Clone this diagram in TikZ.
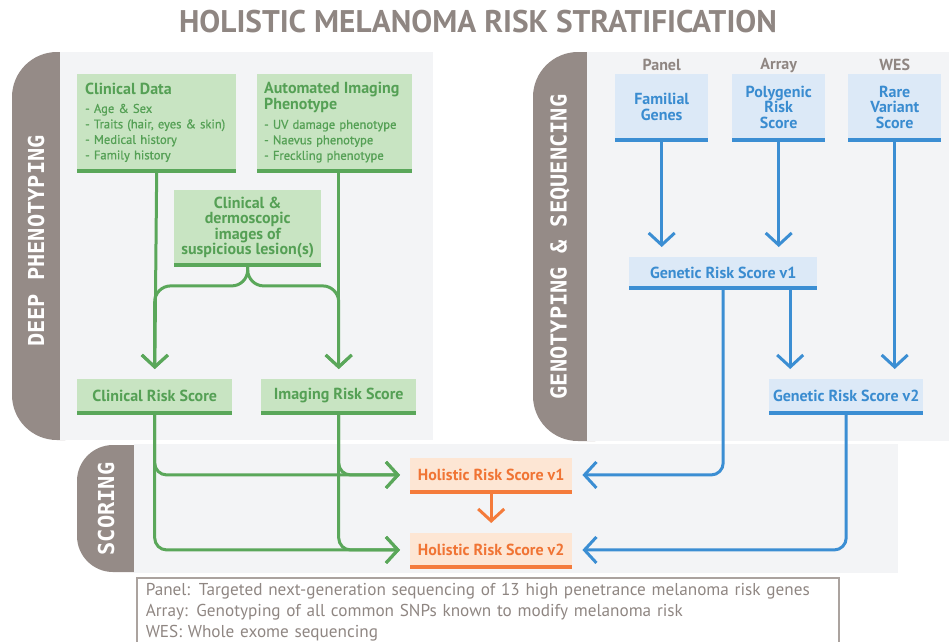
\documentclass[tikz,border=0pt]{standalone}
\usepackage{fontspec}
\setmainfont{PT Sans}
\newfontfamily\tabfont{DejaVu Sans Mono}
\newfontfamily\itemfont[FakeBold=0.7]{PT Sans}
\usetikzlibrary{arrows.meta,calc}
\definecolor{tabgray}{HTML}{958B87}
\definecolor{txtgray}{HTML}{8F8682}
\definecolor{panelbg}{HTML}{F3F4F6}
\definecolor{ggreen}{HTML}{5AA75A}
\definecolor{gfill}{HTML}{C8E4C2}
\definecolor{gtext}{HTML}{55A055}
\definecolor{bblue}{HTML}{3B8ED3}
\definecolor{bfill}{HTML}{DCE9F7}
\definecolor{btext}{HTML}{3A8CD0}
\definecolor{oorange}{HTML}{F47B3B}
\definecolor{ofill}{HTML}{FDE6D4}
\definecolor{otext}{HTML}{F07434}
\definecolor{legline}{HTML}{ABA39F}
\tikzset{
  every node/.style={font=\fontsize{16}{15.5}\selectfont},
  panel/.style={fill=panelbg},
  tab/.style={fill=tabgray, rounded corners=45pt},
  tablabel/.style={font=\tabfont\bfseries\fontsize{22}{22}\selectfont, text=white, rotate=90},
  title/.style={font=\bfseries\fontsize{31.3}{31.3}\selectfont, text=txtgray},
  toplbl/.style={font=\bfseries\fontsize{16}{16}\selectfont, text=txtgray},
  box/.style={inner sep=0pt, align=center, anchor=north west,
              font=\bfseries\fontsize{16}{15.5}\selectfont},
  list/.style={align=left, inner xsep=7pt, font=\itemfont\fontsize{12.6}{15.5}\selectfont},
  gbox/.style={box, fill=gfill, text=gtext},
  bbox/.style={box, fill=bfill, text=btext},
  obox/.style={box, fill=ofill, text=otext},
  edge/.style={line width=3.5pt},
  link/.style={line width=3pt, line join=round, shorten >=10pt,
               -{Straight Barb[length=12pt,width=26pt]}},
  garrow/.style={link, draw=ggreen},
  barrow/.style={link, draw=bblue},
  oarrow/.style={link, draw=oorange},
  legend/.style={draw=legline, line width=1.5pt, text=txtgray, align=left,
                 anchor=north west, text width=684pt, inner xsep=9pt, inner ysep=5pt,
                 font=\fontsize{17.2}{21}\selectfont},
}
\begin{document}
\begin{tikzpicture}[x=1pt, y=-1pt]
  \useasboundingbox (0,0) rectangle (949,641);

  \node[title] (ttl) at (478,22) {HOLISTIC MELANOMA RISK STRATIFICATION};

  % panels
  \fill[tab] (12,52) rectangle (110,440);
  \fill[panel] (60,52) rectangle (433,440);
  \node[tablabel] (deeplbl) at (36,241) {DEEP PHENOTYPING};

  \fill[tab] (533,52) rectangle (640,441);
  \fill[panel] (587,52) rectangle (949,441);
  \node[tablabel] (genolbl) at (560,247) {GENOTYPING \& SEQUENCING};

  \fill[tab, rounded corners=36pt] (77,445) rectangle (170,572);
  \fill[panel] (134,444) rectangle (898,573);
  \node[tablabel] (scorelbl) at (106,509) {SCORING};

  % deep phenotyping
  \node[gbox, list, minimum width=155pt, minimum height=96.5pt, text width=143pt, inner xsep=8pt] (cd) at (77,74)
    {{\rmfamily\bfseries\fontsize{16}{15.5}\selectfont Clinical Data}\\[3pt]
     - Age \& Sex\\ - Traits (hair, eyes \& skin)\\ - Medical history\\ - Family history};
  \node[gbox, list, minimum width=155pt, minimum height=96.5pt, text width=141pt] (ai) at (257,74)
    {{\rmfamily\bfseries\fontsize{16}{15.5}\selectfont Automated Imaging\\Phenotype}\\[4pt]
     - UV damage phenotype\\ - Naevus phenotype\\ - Freckling phenotype};
  \node[gbox, minimum width=147pt, minimum height=74.5pt] (cl) at (174,190)
    {Clinical \&\\dermoscopic\\images of\\suspicious lesion(s)};
  \node[gbox, minimum width=155pt, minimum height=33.5pt] (crs) at (77,379) {Clinical Risk Score};
  \node[gbox, minimum width=155pt, minimum height=33.5pt] (irs) at (261,379) {Imaging Risk Score};

  % genotyping
  \node[bbox, minimum width=93pt, minimum height=65.5pt] (fg) at (615,74) {Familial\\Genes};
  \node[bbox, minimum width=93pt, minimum height=65.5pt] (prs) at (732,74) {Polygenic\\Risk\\Score};
  \node[bbox, minimum width=93pt, minimum height=65.5pt] (rvs) at (848,74) {Rare\\Variant\\Score};
  \node[toplbl] (lpanel) at ($(fg.north)+(0,-9)$) {Panel};
  \node[toplbl] (larray) at ($(prs.north)+(0,-9)$) {Array};
  \node[toplbl] (lwes) at ($(rvs.north)+(0,-9)$) {WES};
  \node[bbox, minimum width=188pt, minimum height=30.5pt] (g1) at (629,257) {Genetic Risk Score v1};
  \node[bbox, minimum width=154pt, minimum height=33.5pt] (g2) at (769,379) {Genetic Risk Score v2};

  % scoring
  \node[obox, minimum width=162pt, minimum height=33.5pt] (h1) at (410,458) {Holistic Risk Score v1};
  \node[obox, minimum width=162pt, minimum height=33.5pt] (h2) at (410,533) {Holistic Risk Score v2};

  \foreach \n in {cd,ai,cl,crs,irs} \draw[edge, draw=ggreen] (\n.south west) -- (\n.south east);
  \foreach \n in {fg,prs,rvs,g1,g2} \draw[edge, draw=bblue] (\n.south west) -- (\n.south east);
  \foreach \n in {h1,h2} \draw[edge, draw=oorange] (\n.south west) -- (\n.south east);

  % connectors
  \draw[garrow] (cd.south) -- (crs.north);
  \draw[garrow] (ai.south -| irs.north) -- (irs.north);
  \draw[garrow, rounded corners=16pt] (cl.south) -- ++(0,21) -| (crs.north);
  \draw[garrow, rounded corners=16pt] (cl.south) -- ++(0,21) -| (irs.north);
  \foreach \s in {crs,irs} {
    \draw[garrow, rounded corners=12pt] (\s.south) |- (h1.west);
    \draw[garrow, rounded corners=12pt] (\s.south) |- (h2.west);
  }
  \draw[oarrow] (h1.south) -- (h2.north);

  \draw[barrow] (fg.south) -- (fg.south |- g1.north);
  \draw[barrow] (prs.south) -- (prs.south |- g1.north);
  \draw[barrow] (rvs.south) -- (rvs.south |- g2.north);
  \draw[barrow] ($(g1.south)+(67,0)$) -- ($(g2.north)+(-56,0)$);
  \draw[barrow, rounded corners=12pt] (g1.south) |- (h1.east);
  \draw[barrow, rounded corners=12pt] (g2.south) |- (h2.east);

  \node[legend] (leg) at (136,577)
    {Panel: Targeted next-generation sequencing of 13 high penetrance melanoma risk genes\\
     Array: Genotyping of all common SNPs known to modify melanoma risk\\
     WES: Whole exome sequencing};
\end{tikzpicture}
\end{document}
